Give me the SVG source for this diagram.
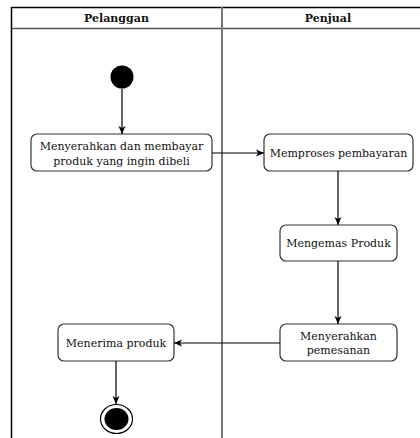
<svg xmlns="http://www.w3.org/2000/svg" width="420" height="438" viewBox="0 0 420 438">
<defs>
<marker id="arr" markerWidth="9" markerHeight="8" refX="8" refY="4" orient="auto" markerUnits="userSpaceOnUse">
<path d="M0,0.5 L8,4 L0,7.5 L2,4 z" fill="#000"/>
</marker>
<style>
.lbl{font-family:"DejaVu Serif","Liberation Serif",serif;font-size:11px;fill:#111;text-anchor:middle}
.hdr{font-family:"DejaVu Serif","Liberation Serif",serif;font-size:11px;font-weight:bold;fill:#111;text-anchor:middle}
.act{fill:#fff;stroke:#333;stroke-width:1.2}
.con{stroke:#000;stroke-width:1.2;fill:none;marker-end:url(#arr)}
</style>
</defs>
<rect width="420" height="438" fill="#fff"/>
<g id="lanes">
<line x1="11" y1="7.5" x2="420" y2="7.5" stroke="#000" stroke-width="1.5"/>
<line x1="11" y1="28.5" x2="420" y2="28.5" stroke="#555" stroke-width="1.5"/>
<line x1="11.5" y1="7" x2="11.5" y2="438" stroke="#000" stroke-width="1.5"/>
<line x1="222" y1="7" x2="222" y2="438" stroke="#777" stroke-width="2"/>
<text class="hdr" x="116.5" y="22">Pelanggan</text>
<text class="hdr" x="328" y="22">Penjual</text>
</g>
<g id="start"><circle cx="122" cy="77" r="11.5" fill="#000"/></g>
<g id="n1"><rect class="act" x="31" y="134" width="181" height="37" rx="6"/>
<text class="lbl" x="121.5" y="150">Menyerahkan dan membayar</text>
<text class="lbl" x="121.5" y="164.5">produk yang ingin dibeli</text></g>
<g id="n2"><rect class="act" x="264" y="134" width="149" height="37" rx="6"/>
<text class="lbl" x="338.5" y="156.5">Memproses pembayaran</text></g>
<g id="n3"><rect class="act" x="280" y="225" width="117" height="36" rx="6"/>
<text class="lbl" x="338.5" y="247">Mengemas Produk</text></g>
<g id="n4"><rect class="act" x="280" y="324" width="117" height="37" rx="6"/>
<text class="lbl" x="338.5" y="339.5">Menyerahkan</text>
<text class="lbl" x="338.5" y="354">pemesanan</text></g>
<g id="n5"><rect class="act" x="58" y="324" width="116" height="37" rx="6"/>
<text class="lbl" x="116" y="346.5">Menerima produk</text></g>
<g id="end"><ellipse cx="116.5" cy="419" rx="16" ry="14.5" fill="#fff" stroke="#000" stroke-width="1.2"/>
<ellipse cx="116.5" cy="419" rx="12" ry="11" fill="#000"/></g>
<g id="connectors">
<line class="con" x1="122" y1="89" x2="122" y2="134"/>
<line class="con" x1="212" y1="153" x2="264" y2="153"/>
<line class="con" x1="338" y1="171" x2="338" y2="225"/>
<line class="con" x1="338" y1="261" x2="338" y2="324"/>
<line class="con" x1="280" y1="343" x2="174" y2="343"/>
<line class="con" x1="116" y1="361" x2="116" y2="404"/>
</g>
</svg>
